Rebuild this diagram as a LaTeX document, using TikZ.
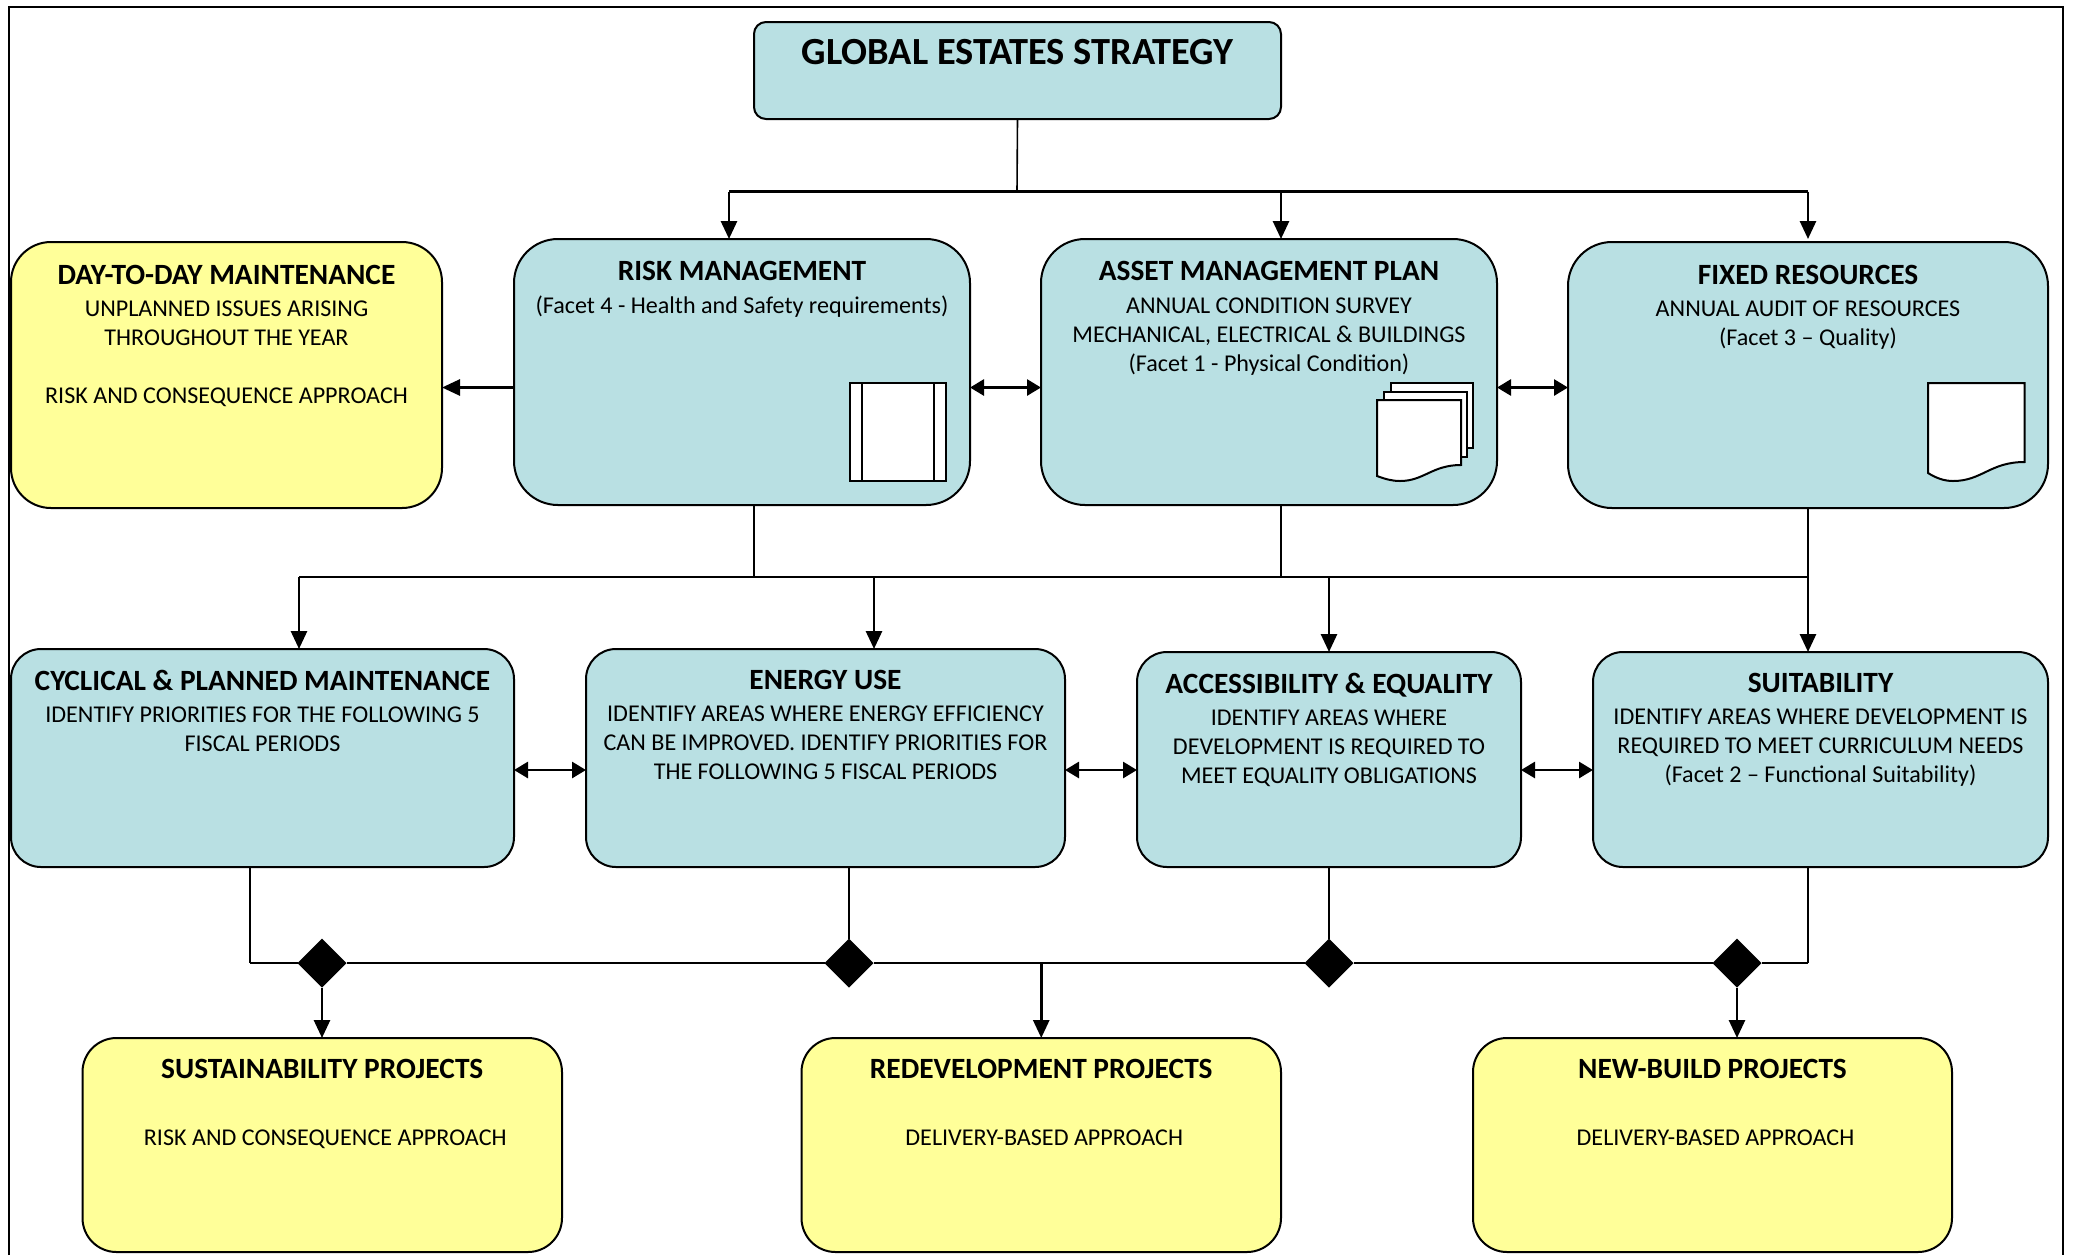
\documentclass[tikz,border=0pt]{standalone}
\usepackage{fontspec}
\setmainfont{Carlito}
\usetikzlibrary{arrows.meta,shapes.geometric}
\definecolor{boxblue}{HTML}{B9E0E3}
\definecolor{boxyellow}{HTML}{FFFF99}
\newcommand{\hdfont}{\fontsize{14.7}{14}\selectfont\bfseries}
\newcommand{\bx}[8]{%
  \pgfmathsetlengthmacro{\bxW}{(#5-#3)*0.5pt}%
  \pgfmathsetlengthmacro{\bxH}{(#6-#4)*0.5pt}%
  \node[#2] (#1) at ({(#3+#5)/2},{(#4+#6)/2})
    {\parbox[c][\bxH][t]{\bxW}{\centering\fontsize{12.05}{14.5}\selectfont\vspace*{#7}#8\par}};%
}
\tikzset{
  card/.style={draw=black,line width=1pt,inner sep=0pt,outer sep=0pt,text=black},
  bluecard/.style={card,fill=boxblue},
  yellowcard/.style={card,fill=boxyellow},
  thin line/.style={draw=black,line width=0.8pt},
  bus line/.style={draw=black,line width=1.3pt},
  arr/.style={draw=black,line width=1.4pt,-{Triangle[length=9pt,width=8pt]}},
  darr/.style={draw=black,line width=1.4pt,{Triangle[length=7pt,width=8pt]}-{Triangle[length=7pt,width=8pt]}},
  joint/.style={diamond,aspect=1,fill=black,draw=none,inner sep=0pt,outer sep=0pt,minimum size=24.5pt},
  sheet/.style={draw=black,line width=1pt,fill=white,line join=miter}
}
\begin{document}
\begin{tikzpicture}[x=0.5pt,y=-0.5pt]
\useasboundingbox (0,0) rectangle (2074,1255);
\draw[draw=black,line width=1pt] (9,1255) -- (9,7) -- (2063,7) -- (2063,1255);

% junction coordinates
\coordinate (ctop) at (1017,191.5);
\coordinate (cbus) at (1017,963);
\coordinate (hone) at (0,387.5);
\coordinate (htwo) at (0,770);

% boxes
\bx{title}{bluecard,rounded corners=6pt}{754}{22}{1281}{119}{8.6pt}{{\fontsize{19.2}{18}\selectfont\bfseries GLOBAL ESTATES STRATEGY}}
\bx{day}{yellowcard,rounded corners=20pt}{11}{242}{442}{508}{11.8pt}{{\hdfont DAY-TO-DAY MAINTENANCE}\\[1.4pt]UNPLANNED ISSUES ARISING\\THROUGHOUT THE YEAR\\[14.5pt]RISK AND CONSEQUENCE APPROACH}
\bx{risk}{bluecard,rounded corners=22pt}{514}{239}{970}{505}{11.2pt}{{\hdfont RISK MANAGEMENT}\\[1.8pt](Facet 4 - Health and Safety requirements)}
\bx{asset}{bluecard,rounded corners=22pt}{1041}{239}{1497}{505}{11.2pt}{{\hdfont ASSET MANAGEMENT PLAN}\\[1.8pt]ANNUAL CONDITION SURVEY\\MECHANICAL, ELECTRICAL \& BUILDINGS\\(Facet 1 - Physical Condition)}
\bx{fixed}{bluecard,rounded corners=22pt}{1568}{242}{2048}{508}{11.8pt}{{\hdfont FIXED RESOURCES}\\[1.4pt]ANNUAL AUDIT OF RESOURCES\\(Facet 3 – Quality)}
\bx{cyc}{bluecard,rounded corners=15pt}{11}{649}{514}{867}{10.6pt}{{\hdfont CYCLICAL \& PLANNED MAINTENANCE}\\[1.4pt]IDENTIFY PRIORITIES FOR THE FOLLOWING 5\\FISCAL PERIODS}
\bx{energy}{bluecard,rounded corners=15pt}{586}{649}{1065}{867}{10.6pt}{{\hdfont ENERGY USE}\\[1.4pt]IDENTIFY AREAS WHERE ENERGY EFFICIENCY\\CAN BE IMPROVED. IDENTIFY PRIORITIES FOR\\THE FOLLOWING 5 FISCAL PERIODS}
\bx{access}{bluecard,rounded corners=15pt}{1137}{652}{1521}{867}{10.6pt}{{\hdfont ACCESSIBILITY \& EQUALITY}\\[1.4pt]IDENTIFY AREAS WHERE\\DEVELOPMENT IS REQUIRED TO\\MEET EQUALITY OBLIGATIONS}
\bx{suit}{bluecard,rounded corners=15pt}{1593}{652}{2048}{867}{10.6pt}{{\hdfont SUITABILITY}\\[1.4pt]IDENTIFY AREAS WHERE DEVELOPMENT IS\\REQUIRED TO MEET CURRICULUM NEEDS\\(Facet 2 – Functional Suitability)}
\bx{sust}{yellowcard,rounded corners=17pt}{82.5}{1038}{562}{1252}{10.4pt}{{\hdfont SUSTAINABILITY PROJECTS}\\[19.2pt]\hspace*{3pt}RISK AND CONSEQUENCE APPROACH}
\bx{redev}{yellowcard,rounded corners=17pt}{801.5}{1038}{1281}{1252}{10.4pt}{{\hdfont REDEVELOPMENT PROJECTS}\\[19.2pt]\hspace*{3pt}DELIVERY-BASED APPROACH}
\bx{newb}{yellowcard,rounded corners=17pt}{1473}{1038}{1952}{1252}{10.4pt}{{\hdfont NEW-BUILD PROJECTS}\\[19.2pt]\hspace*{3pt}DELIVERY-BASED APPROACH}

% diamonds
\node[joint] (d1) at (322,963) {};
\node[joint] (d2) at (849,963) {};
\node[joint] (d3) at (1329,963) {};
\node[joint] (d4) at (1737,963) {};

% top tree
\draw[thin line] (title.south) -- (ctop);
\coordinate (ta) at (729,191.5);
\coordinate (tb) at (1281,191.5);
\coordinate (tc) at (1808,191.5);
\draw[bus line] (ta) -- (tc);
\draw[arr] (ta) -- (ta |- risk.north);
\draw[arr] (tb) -- (tb |- asset.north);
\draw[arr] (tc) -- (1808,239);

% horizontal links row 1
\draw[arr] (risk.west |- hone) -- (day.east |- hone);
\draw[darr] (risk.east |- hone) -- (asset.west |- hone);
\draw[darr] (asset.east |- hone) -- (fixed.west |- hone);

% middle tree
\coordinate (ma) at (299,577);
\coordinate (mb) at (874,577);
\coordinate (mc) at (1329,577);
\coordinate (md) at (1808,577);
\coordinate (me) at (754,577);
\coordinate (mf) at (1281,577);
\draw[thin line] (me |- risk.south) -- (me);
\draw[thin line] (mf |- asset.south) -- (mf);
\draw[bus line] (ma) -- (md);
\draw[arr] (ma) -- (ma |- cyc.north);
\draw[arr] (mb) -- (mb |- energy.north);
\draw[arr] (mc) -- (access.north);
\draw[arr] (md |- fixed.south) -- (md |- suit.north);

% horizontal links row 2
\draw[darr] (cyc.east |- htwo) -- (energy.west |- htwo);
\draw[darr] (energy.east |- htwo) -- (access.west |- htwo);
\draw[darr] (access.east |- htwo) -- (suit.west |- htwo);

% bus
\coordinate (ba) at (250,867);
\coordinate (bd) at (1808,867);
\draw[thin line] (ba) -- (ba |- d1.west);
\draw[bus line] (ba |- d1.west) -- (d1.west);
\draw[bus line] (d1.east) -- (d2.west);
\draw[bus line] (d2.east) -- (d3.west);
\draw[bus line] (d3.east) -- (d4.west);
\draw[bus line] (d4.east) -- (bd |- d4.east);
\draw[thin line] (bd) -- (bd |- d4.east);
\draw[thin line] (d2 |- energy.south) -- (d2.north);
\draw[thin line] (access.south) -- (d3.north);
\draw[arr] (d1.south) -- (d1 |- sust.north);
\draw[arr] (cbus -| redev.north) -- (redev.north);
\draw[arr] (d4.south) -- (d4 |- newb.north);

% icons
\draw[sheet] (850,383) rectangle (946,481);
\draw[line width=1pt] (862,383) -- (862,481) (934,383) -- (934,481);

\draw[sheet] (1391,383) -- (1473,383) -- (1473,448) -- (1391,448) -- cycle;
\draw[sheet] (1384,392) -- (1467,392) -- (1467,457) -- (1384,457) -- cycle;
\draw[sheet] (1377,400) -- (1461,400) -- (1461,465)
  .. controls (1432,465) and (1424,481) .. (1400,481)
  .. controls (1392,481) and (1385,479) .. (1377,476) -- cycle;

\draw[sheet] (1928,383) -- (2024.5,383) -- (2024.5,462)
  .. controls (1990,462) and (1982,481) .. (1953,481)
  .. controls (1944,481) and (1936,478) .. (1928,473) -- cycle;
\end{tikzpicture}
\end{document}
